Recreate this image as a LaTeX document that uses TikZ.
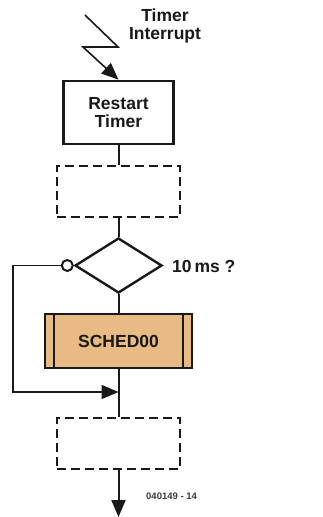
\documentclass[tikz,border=0pt]{standalone}
\usepackage{fontspec}
\setmainfont{Liberation Sans}
\usetikzlibrary{shapes.geometric,arrows.meta}
\definecolor{schedfill}{RGB}{233,187,132}
\definecolor{ink}{RGB}{25,25,25}
\tikzset{
  lbl/.style={font=\fontsize{17.5}{19}\selectfont\bfseries, text=ink, inner sep=0pt},
  solidbox/.style={draw=ink, line width=2.6pt, rectangle, inner sep=0pt},
  dashbox/.style={draw=ink, line width=2.4pt, dash pattern=on 9pt off 5pt, rectangle, minimum width=123pt, minimum height=51pt, inner sep=0pt},
  conn/.style={draw=ink, line width=2pt},
  bigtip/.style={-{Triangle[length=17pt,width=14pt]}},
}
\begin{document}
\begin{tikzpicture}[x=1pt,y=-1pt]
\useasboundingbox (0,0) rectangle (322,517);
% nodes
\node[solidbox, minimum width=110pt, minimum height=63pt, align=center, lbl] (restart) at (118.5,112.5) {Restart\\[-1pt]Timer};
\node[dashbox] (d1) at (118.5,191.5) {};
\node[diamond, draw=ink, line width=2.4pt, aspect=1.58, minimum width=87pt, minimum height=55pt, inner sep=0pt] (dec) at (118.5,265.5) {};
\node[circle, draw=ink, line width=2pt, minimum size=11pt, inner sep=0pt, anchor=east] (circ) at (dec.west) {};
\node[solidbox, fill=schedfill, minimum width=147pt, minimum height=54pt, lbl] (sched) at (118.5,341) {SCHED00};
\node[dashbox] (d2) at (118.5,443.5) {};
% labels
\node[lbl, align=center] (intlbl) at (165,26) {Timer\\[-1pt]Interrupt};
\node[lbl, anchor=west] (mslbl) at (172,266) {10\,ms ?};
\node[font=\fontsize{9.5}{11}\selectfont\bfseries, text=ink!85, anchor=west, inner sep=0pt] (figno) at (146,496) {040149 - 14};
% inner lines of SCHED00
\draw[ink, line width=1.8pt] ([xshift=10pt]sched.north west) -- ([xshift=10pt]sched.south west);
\draw[ink, line width=1.8pt] ([xshift=-10pt]sched.north east) -- ([xshift=-10pt]sched.south east);
% coordinates
\coordinate (zA) at (85,15);
\coordinate (zB) at (118,47);
\coordinate (zC) at (83,47);
\coordinate (lA) at (13,265.5);
\coordinate (lB) at (13,392);
\coordinate (join) at (118.5,392);
\coordinate (endp) at (118.5,517);
% lightning
\draw[ink, line width=1.6pt, bigtip] (zA) -- (zB) -- (zC) -- (restart.north);
% connectors
\draw[conn] (restart.south) -- (d1.north);
\draw[conn] (d1.south) -- (dec.north);
\draw[conn] (dec.south) -- (sched.north);
\draw[conn] (sched.south) -- (d2.north);
\draw[ink, line width=1.6pt, bigtip] (circ.west) -- (lA) -- (lB) -- (join);
\draw[conn, bigtip] (d2.south) -- (endp);
\end{tikzpicture}
\end{document}
